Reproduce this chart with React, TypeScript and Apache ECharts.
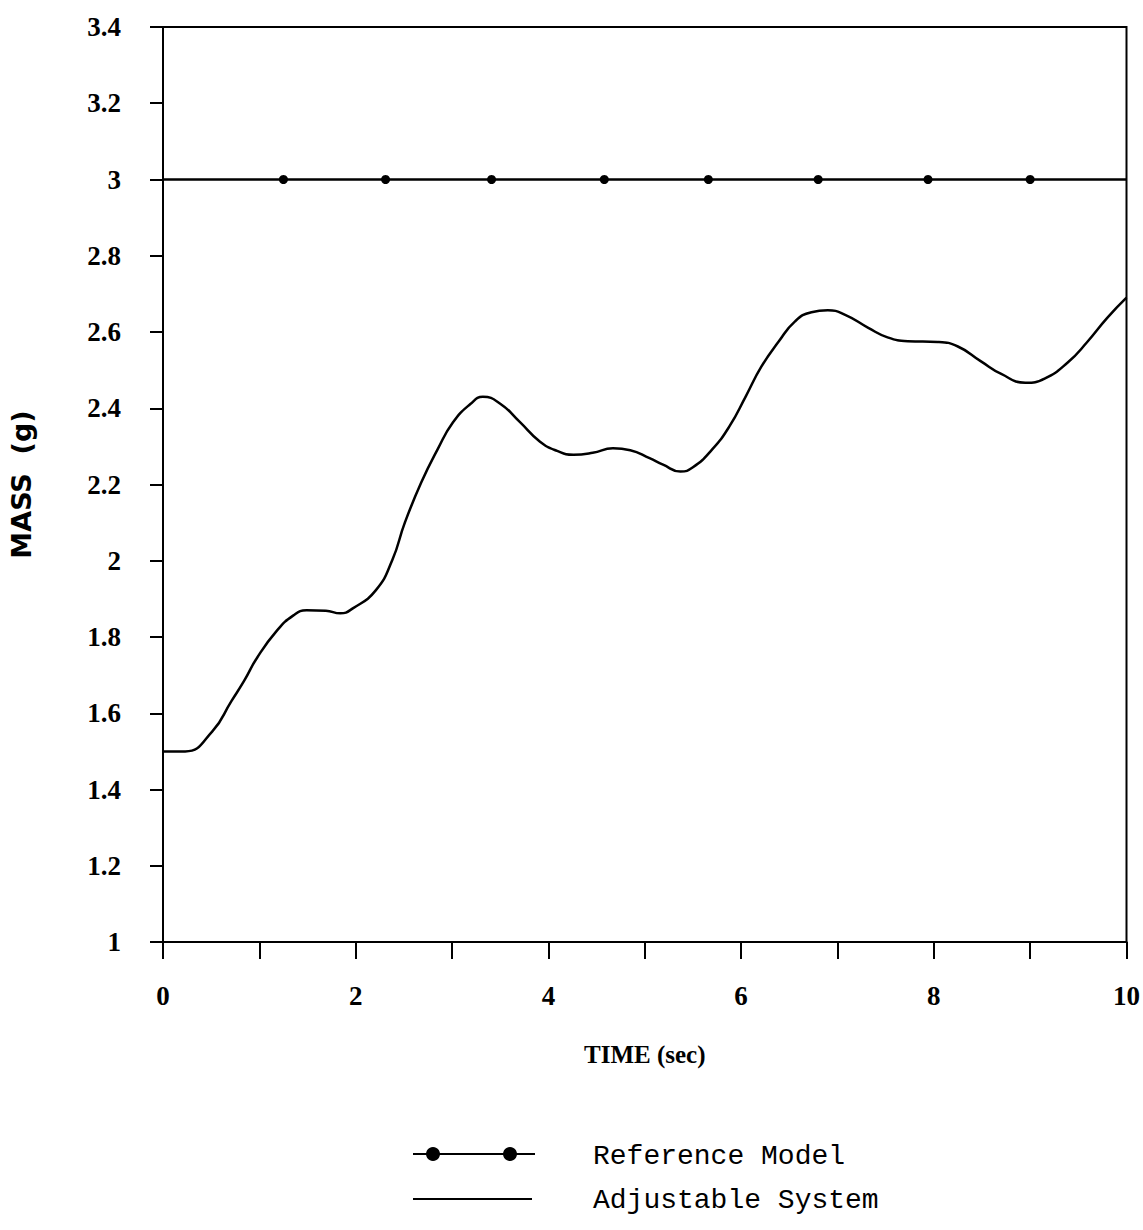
import React, { useEffect, useRef } from "react";
import * as echarts from "echarts";

// Adjustable system response, time (s) and mass (g)
const adjTime = [
  0, 0.23, 0.51, 0.71, 0.84, 0.98, 1.18, 1.35, 1.49, 1.69, 1.84, 1.97, 2.21, 2.38,
  2.51, 2.68, 2.85, 3.01, 3.19, 3.32, 3.5, 3.7, 3.91, 4.09, 4.26, 4.46, 4.67, 4.85,
  5.05, 5.19, 5.37, 5.5, 5.7, 5.88, 6.05, 6.21, 6.39, 6.56, 6.73, 6.9, 7.08, 7.32,
  7.52, 7.73, 8.04, 8.25, 8.49, 8.7, 8.95, 9.15, 9.39, 9.59, 9.8, 10.0,
];
const adjMass = [
  1.5, 1.5, 1.552, 1.632, 1.684, 1.747, 1.816, 1.856, 1.87, 1.869, 1.862, 1.875, 1.923, 2.002,
  2.1, 2.205, 2.292, 2.363, 2.411, 2.43, 2.412, 2.365, 2.313, 2.288, 2.278, 2.283, 2.295, 2.29,
  2.269, 2.252, 2.234, 2.245, 2.292, 2.353, 2.432, 2.509, 2.575, 2.628, 2.652, 2.657, 2.645, 2.611,
  2.586, 2.576, 2.574, 2.562, 2.523, 2.49, 2.467, 2.478, 2.52, 2.573, 2.637, 2.69,
];

// Reference model: line end points and the sampled marker points
const refTime = [0, 1.25, 2.31, 3.41, 4.58, 5.66, 6.8, 7.94, 9.0, 10];
const refMass = [3.0, 3.0, 3.0, 3.0, 3.0, 3.0, 3.0, 3.0, 3.0, 3.0];

const legendNames = ["Reference Model", "Adjustable System"];

const tickFont = "'Liberation Serif', 'DejaVu Serif', serif";
const legendFont = "'Liberation Mono', 'DejaVu Sans Mono', monospace";

export default function App() {
  const ref = useRef<HTMLDivElement>(null);

  useEffect(() => {
    if (!ref.current) return;
    const chart = echarts.init(ref.current, null, { renderer: "svg" });

    const refData = refTime.map((t, i) => {
      const isEnd = i === 0 || i === refTime.length - 1;
      return isEnd
        ? { value: [t, refMass[i]], symbol: "none" }
        : { value: [t, refMass[i]] };
    });

    chart.setOption({
      animation: false,
      backgroundColor: "#fff",
      grid: {
        left: 161,
        right: 15,
        top: 27,
        bottom: 288,
        show: true,
        borderColor: "#000",
        borderWidth: 2,
      },
      xAxis: {
        type: "value",
        min: 0,
        max: 10,
        interval: 1,
        name: "TIME (sec)",
        nameLocation: "middle",
        nameGap: 100,
        nameTextStyle: {
          fontFamily: tickFont,
          fontWeight: "bold",
          fontSize: 25,
          color: "#000",
        },
        axisLine: { show: true, lineStyle: { color: "#000", width: 2 } },
        axisTick: { show: true, inside: false, length: 17, lineStyle: { color: "#000", width: 2 } },
        axisLabel: {
          margin: 40,
          fontFamily: tickFont,
          fontWeight: "bold",
          fontSize: 27,
          color: "#000",
          formatter: (v: number) => (Math.round(v) % 2 === 0 ? String(Math.round(v)) : ""),
        },
        splitLine: { show: false },
      },
      yAxis: {
        type: "value",
        min: 1,
        max: 3.4,
        interval: 0.2,
        name: "MASS  (g)",
        nameLocation: "middle",
        nameGap: 128,
        nameRotate: 90,
        nameTextStyle: {
          fontFamily: "'DejaVu Sans', sans-serif",
          fontWeight: "bold",
          fontSize: 27,
          color: "#000",
        },
        axisLine: { show: true, lineStyle: { color: "#000", width: 2 } },
        axisTick: { show: true, inside: false, length: 13, lineStyle: { color: "#000", width: 2 } },
        axisLabel: {
          margin: 42,
          fontFamily: tickFont,
          fontWeight: "bold",
          fontSize: 27,
          color: "#000",
          formatter: (v: number) => String(+v.toFixed(1)),
        },
        splitLine: { show: false },
      },
      series: [
        {
          name: legendNames[0],
          type: "line",
          data: refData,
          symbol: "circle",
          symbolSize: 9,
          showAllSymbol: true,
          itemStyle: { color: "#000" },
          lineStyle: { color: "#000", width: 2.5 },
        },
        {
          name: legendNames[1],
          type: "line",
          data: adjTime.map((t, i) => [t, adjMass[i]]),
          smooth: 0.5,
          showSymbol: false,
          lineStyle: { color: "#000", width: 2.5 },
        },
      ],
      graphic: [
        {
          type: "line",
          shape: { x1: 413, y1: 1154, x2: 535, y2: 1154 },
          style: { stroke: "#000", lineWidth: 2 },
        },
        { type: "circle", shape: { cx: 433, cy: 1154, r: 7 }, style: { fill: "#000" } },
        { type: "circle", shape: { cx: 510, cy: 1154, r: 7 }, style: { fill: "#000" } },
        {
          type: "text",
          x: 593,
          y: 1156,
          style: {
            text: legendNames[0],
            font: `28px ${legendFont}`,
            fill: "#000",
            verticalAlign: "middle",
          },
        },
        {
          type: "line",
          shape: { x1: 413, y1: 1199, x2: 532, y2: 1199 },
          style: { stroke: "#000", lineWidth: 2 },
        },
        {
          type: "text",
          x: 593,
          y: 1200,
          style: {
            text: legendNames[1],
            font: `28px ${legendFont}`,
            fill: "#000",
            verticalAlign: "middle",
          },
        },
      ],
    });

    return () => chart.dispose();
  }, []);

  return (
    <div
      ref={ref}
      style={{ position: "absolute", left: 0, top: 0, width: 1143, height: 1230 }}
    />
  );
}
